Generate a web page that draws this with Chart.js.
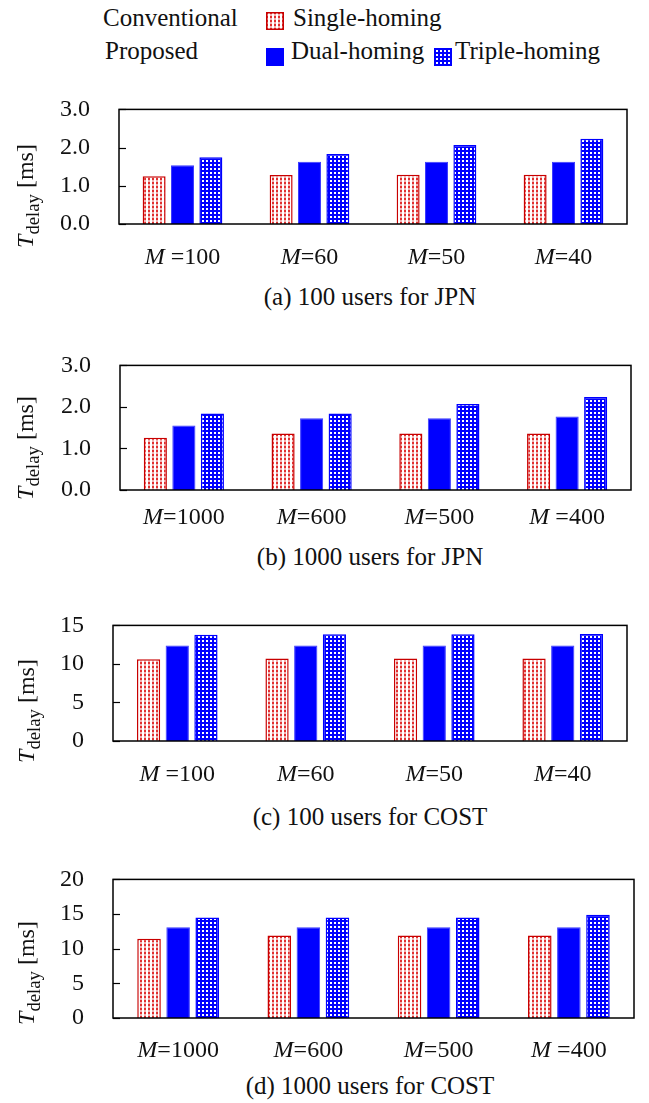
<!DOCTYPE html>
<html>
<head>
<meta charset="utf-8">
<script src="https://cdn.jsdelivr.net/npm/chart.js@4.4.1/dist/chart.umd.min.js"></script>
<style>
  html, body { margin: 0; padding: 0; background: #fff; }
  #fig { position: relative; width: 649px; height: 1103px; font-family: 'Liberation Serif', 'Times New Roman', serif; color: #111; }
  #fig canvas.panel { position: absolute; left: 0; }
  .txt { position: absolute; white-space: nowrap; line-height: 25px; font-size: 25px; font-family: 'Liberation Serif', serif; }
  .sw { position: absolute; width: 18px; height: 18px; }
  .ytitle { position: absolute; transform: translate(-50%, -50%) rotate(-90deg); white-space: nowrap; font-size: 24px; font-family: 'Liberation Serif', serif; }
  .ytitle sub { font-size: 0.78em; vertical-align: -0.35em; }
  .cap { position: absolute; left: 70px; width: 600px; text-align: center; font-size: 25px; font-family: 'Liberation Serif', serif; transform: translateY(-50%); }
</style>
</head>
<body>
<div id="fig">
  <div class="txt" style="left:103px;top:5px">Conventional</div>
  <div class="txt" style="left:105px;top:38px">Proposed</div>
  <canvas class="sw" id="swSingle" width="18" height="18" style="left:266px;top:12px"></canvas>
  <div class="txt" style="left:293px;top:5px">Single-homing</div>
  <canvas class="sw" id="swDual" width="18" height="18" style="left:266px;top:48px"></canvas>
  <div class="txt" style="left:291px;top:38px">Dual-homing</div>
  <canvas class="sw" id="swTriple" width="18" height="18" style="left:434px;top:48px"></canvas>
  <div class="txt" style="left:455px;top:38px">Triple-homing</div>

  <canvas class="panel" id="chartA" width="649" height="208" style="top:66px"></canvas>
  <canvas class="panel" id="chartB" width="649" height="218" style="top:322px"></canvas>
  <canvas class="panel" id="chartC" width="649" height="209" style="top:582px"></canvas>
  <canvas class="panel" id="chartD" width="649" height="232" style="top:836px"></canvas>

  <div class="ytitle" style="left:28px;top:196px"><i>T</i><sub>delay</sub> [ms]</div>
  <div class="ytitle" style="left:28px;top:448px"><i>T</i><sub>delay</sub> [ms]</div>
  <div class="ytitle" style="left:29px;top:711px"><i>T</i><sub>delay</sub> [ms]</div>
  <div class="ytitle" style="left:29px;top:973px"><i>T</i><sub>delay</sub> [ms]</div>

  <div class="cap" style="top:297px">(a) 100 users for JPN</div>
  <div class="cap" style="top:557px">(b) 1000 users for JPN</div>
  <div class="cap" style="top:817px">(c) 100 users for COST</div>
  <div class="cap" style="top:1086px">(d) 1000 users for COST</div>
</div>
<script>
// tick labels
const labels100 = ['M =100', 'M=60', 'M=50', 'M=40'];
const labels1000 = ['M=1000', 'M=600', 'M=500', 'M =400'];

// (a) 100 users for JPN
const singleA = [1.25, 1.28, 1.29, 1.29];
const dualA = [1.54, 1.63, 1.63, 1.63];
const tripleA = [1.75, 1.83, 2.07, 2.23];
// (b) 1000 users for JPN
const singleB = [1.26, 1.36, 1.36, 1.36];
const dualB = [1.55, 1.73, 1.73, 1.77];
const tripleB = [1.84, 1.84, 2.07, 2.24];
// (c) 100 users for COST
const singleC = [10.6, 10.7, 10.7, 10.7];
const dualC = [12.4, 12.4, 12.4, 12.4];
const tripleC = [13.8, 13.85, 13.85, 13.9];
// (d) 1000 users for COST
const singleD = [11.45, 11.9, 11.9, 11.9];
const dualD = [13.1, 13.1, 13.1, 13.1];
const tripleD = [14.5, 14.5, 14.5, 14.9];

const RED = '#c80000';
const BLUE = '#0000ff';
const FONT = "'Liberation Serif', 'Times New Roman', serif";

// coarse 2px dots so the colour survives in the screenshot
function makePattern(kind) {
  const c = document.createElement('canvas');
  const g = c.getContext('2d');
  c.width = 4; c.height = 4;
  if (kind === 'single') {
    g.fillStyle = '#fff';
    g.fillRect(0, 0, 4, 4);
    g.fillStyle = '#e03030';
    g.fillRect(0, 0, 2, 2);
    g.fillStyle = '#f3b0b0';
    g.fillRect(0, 2, 2, 2);
  } else {
    g.fillStyle = BLUE;
    g.fillRect(0, 0, 4, 4);
    g.fillStyle = '#fff';
    g.fillRect(2, 2, 2, 2);
  }
  return g.createPattern(c, 'repeat');
}

const singleFill = makePattern('single');
const tripleFill = makePattern('triple');

function swatch(id, fill, border) {
  const g = document.getElementById(id).getContext('2d');
  g.fillStyle = fill;
  g.fillRect(0, 0, 18, 18);
  if (border) {
    g.strokeStyle = border;
    g.lineWidth = 1.5;
    g.strokeRect(0.75, 0.75, 16.5, 16.5);
  }
}
swatch('swSingle', singleFill, RED);
swatch('swDual', BLUE);
swatch('swTriple', tripleFill, BLUE);

// box, inner ticks and x labels with italic M
const frame = {
  id: 'frame',
  afterDatasetsDraw(chart, args, opts) {
    const { ctx, chartArea: a, scales: { x, y } } = chart;
    ctx.save();
    ctx.strokeStyle = '#000';
    ctx.lineWidth = 1.5;
    ctx.strokeRect(a.left, a.top, a.right - a.left, a.bottom - a.top);
    ctx.lineWidth = 1.2;
    y.ticks.forEach((t, i) => {
      const py = Math.round(y.getPixelForTick(i)) + 0.5;
      ctx.beginPath();
      ctx.moveTo(a.left, py);
      ctx.lineTo(a.left + 7, py);
      ctx.stroke();
    });
    ctx.fillStyle = '#111';
    ctx.textBaseline = 'middle';
    chart.data.labels.forEach((lab, i) => {
      const px = x.getPixelForValue(i);
      const head = lab.slice(0, 1);
      const rest = lab.slice(1);
      ctx.font = `italic 24px ${FONT}`;
      const w1 = ctx.measureText(head).width;
      ctx.font = `24px ${FONT}`;
      const w2 = ctx.measureText(rest).width;
      const x0 = px - (w1 + w2) / 2;
      const py = a.bottom + opts.gap;
      ctx.textAlign = 'left';
      ctx.font = `italic 24px ${FONT}`;
      ctx.fillText(head, x0, py);
      ctx.font = `24px ${FONT}`;
      ctx.fillText(rest, x0 + w1, py);
    });
    ctx.restore();
  },
};

function makeChart(id, labels, single, dual, triple, yMax, step, decimals, plotLeft, plotRight, gap) {
  return new Chart(document.getElementById(id), {
    type: 'bar',
    data: {
      labels,
      datasets: [
        { label: 'Single-homing', data: single, backgroundColor: singleFill, borderColor: RED, borderWidth: 1.5 },
        { label: 'Dual-homing', data: dual, backgroundColor: BLUE, borderColor: '#3a3aff', borderWidth: 1 },
        { label: 'Triple-homing', data: triple, backgroundColor: tripleFill, borderColor: BLUE, borderWidth: 1.5 },
      ],
    },
    options: {
      responsive: false,
      animation: false,
      layout: { padding: { top: 16, right: 649 - plotRight, bottom: 0, left: 0 } },
      datasets: { bar: { categoryPercentage: 0.67, barPercentage: 0.81 } },
      plugins: {
        legend: { display: false },
        tooltip: { enabled: false },
        frame: { gap },
      },
      scales: {
        x: {
          grid: { display: false },
          border: { display: false },
          ticks: { display: false },
          afterFit: (s) => { s.height = 50; },
        },
        y: {
          min: 0,
          max: yMax,
          grid: { display: false, drawTicks: false },
          border: { display: false },
          ticks: {
            stepSize: step,
            padding: 29,
            color: '#111',
            font: { family: FONT, size: 24 },
            callback: (v) => v.toFixed(decimals),
          },
          afterFit: (s) => { s.width = plotLeft; },
        },
      },
    },
    plugins: [frame],
  });
}

makeChart('chartA', labels100, singleA, dualA, tripleA, 3, 1, 1, 119, 627, 34);
makeChart('chartB', labels1000, singleB, dualB, tripleB, 3, 1, 1, 120, 631, 28);
makeChart('chartC', labels100, singleC, dualC, tripleC, 15, 5, 0, 113, 627, 34);
makeChart('chartD', labels1000, singleD, dualD, tripleD, 20, 5, 0, 113, 634, 33);
</script>
</body>
</html>
